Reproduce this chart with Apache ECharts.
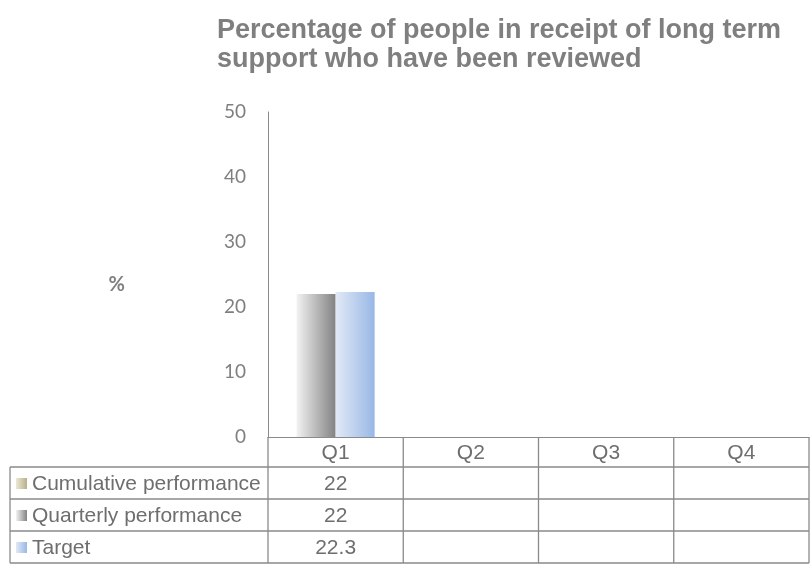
<!DOCTYPE html>
<html>
<head>
<meta charset="utf-8">
<script src="https://cdn.jsdelivr.net/npm/echarts@6/dist/echarts.min.js"></script>
<style>
  html, body { margin: 0; padding: 0; background: #ffffff; }
  #chart { width: 810px; height: 570px; }
</style>
</head>
<body>
<div id="chart"></div>
<script>
// Quarter categories and the three reported series
const quarters = ['Q1', 'Q2', 'Q3', 'Q4'];
const seriesNames = ['Cumulative performance', 'Quarterly performance', 'Target'];
const cumulative = [22, null, null, null];
const quarterly = [22, null, null, null];
const target = [22.3, null, null, null];
const yMin = 0, yMax = 50, yStep = 10;

const textGray = '#7f7f7f';
const lineGray = '#8a8a8a';

function hGrad(c0, c1) {
  return new echarts.graphic.LinearGradient(0, 0, 1, 0, [
    { offset: 0, color: c0 },
    { offset: 1, color: c1 }
  ]);
}
const fills = [
  hGrad('#ece8d6', '#b8b08a'),
  hGrad('#f2f2f2', '#828282'),
  hGrad('#e2e9f6', '#98b8e6')
];
const seriesData = [cumulative, quarterly, target];

const chart = echarts.init(document.getElementById('chart'), null, { renderer: 'canvas' });

const grid = { left: 268, right: 1, top: 112, bottom: 133 };

chart.setOption({
  animation: false,
  backgroundColor: '#ffffff',
  title: {
    text: 'Percentage of people in receipt of long term\nsupport who have been reviewed',
    left: 212,
    top: 11,
    textStyle: {
      fontFamily: 'Liberation Sans, Arial, sans-serif',
      fontSize: 27,
      fontWeight: 'bold',
      color: textGray,
      lineHeight: 29
    }
  },
  grid: grid,
  xAxis: {
    type: 'category',
    data: quarters,
    axisLine: { lineStyle: { color: lineGray, width: 1 } },
    axisTick: { show: false },
    axisLabel: { show: false },
    splitLine: { show: false }
  },
  yAxis: {
    type: 'value',
    min: yMin,
    max: yMax,
    interval: yStep,
    name: '%',
    nameLocation: 'middle',
    nameRotate: 0,
    nameGap: 143,
    nameTextStyle: {
      fontFamily: 'Lato, sans-serif',
      fontSize: 20,
      fontWeight: 'bold',
      color: textGray,
      verticalAlign: 'top'
    },
    axisLine: { show: true, lineStyle: { color: lineGray, width: 1 } },
    axisTick: { show: false },
    splitLine: { show: false },
    axisLabel: {
      margin: 22,
      fontFamily: 'Lato, sans-serif',
      fontSize: 19,
      color: textGray
    }
  },
  series: [
    {
      name: seriesNames[0],
      type: 'line',
      data: cumulative,
      showSymbol: false,
      lineStyle: { color: '#b8b08a', width: 2 }
    },
    {
      name: seriesNames[1],
      type: 'bar',
      data: quarterly,
      barWidth: 39,
      barGap: '0%',
      itemStyle: { color: fills[1] }
    },
    {
      name: seriesNames[2],
      type: 'bar',
      data: target,
      barWidth: 39,
      barGap: '0%',
      itemStyle: { color: fills[2] }
    }
  ]
});

// Data table under the plot, laid out from the category axis
function buildTable() {
  const w = chart.getWidth();
  const h = chart.getHeight();
  const left = grid.left;
  const right = w - grid.right;
  const axisY = h - grid.bottom;
  const band = (right - left) / quarters.length;
  const headerH = 30;
  const rowH = 32;
  const tableLeft = 10;
  const els = [];
  const font = '21px "Liberation Sans", Arial, sans-serif';
  const cellColor = '#6e6e6e';

  const line = (x1, y1, x2, y2) => els.push({
    type: 'line',
    shape: { x1, y1, x2, y2 },
    style: { stroke: lineGray, lineWidth: 1.3 },
    silent: true
  });

  const rowsTop = axisY + headerH;
  const bottom = rowsTop + rowH * seriesNames.length;

  // horizontal rules
  for (let r = 0; r <= seriesNames.length; r++) {
    line(tableLeft, rowsTop + r * rowH, right, rowsTop + r * rowH);
  }
  // vertical rules
  line(tableLeft, rowsTop, tableLeft, bottom);
  for (let c = 0; c <= quarters.length; c++) {
    line(left + c * band, axisY, left + c * band, bottom);
  }

  // header labels
  quarters.forEach((q) => {
    const cx = chart.convertToPixel({ xAxisIndex: 0 }, q);
    els.push({
      type: 'text',
      x: cx, y: axisY + headerH / 2 + 1,
      style: { text: q, font, fill: cellColor, align: 'center', verticalAlign: 'middle' },
      silent: true
    });
  });

  // series rows: legend key, name and values
  seriesNames.forEach((name, r) => {
    const cy = rowsTop + r * rowH + rowH / 2 + 1;
    els.push({
      type: 'rect',
      shape: { x: 16, y: cy - 6, width: 11, height: 11 },
      style: { fill: fills[r] },
      silent: true
    });
    els.push({
      type: 'text',
      x: 32, y: cy,
      style: { text: name, font, fill: cellColor, align: 'left', verticalAlign: 'middle' },
      silent: true
    });
    seriesData[r].forEach((v, i) => {
      if (v === null || v === undefined) return;
      const cx = chart.convertToPixel({ xAxisIndex: 0 }, quarters[i]);
      els.push({
        type: 'text',
        x: cx, y: cy,
        style: { text: String(v), font, fill: cellColor, align: 'center', verticalAlign: 'middle' },
        silent: true
      });
    });
  });

  chart.setOption({ graphic: { elements: els } });
}
buildTable();
</script>
</body>
</html>
